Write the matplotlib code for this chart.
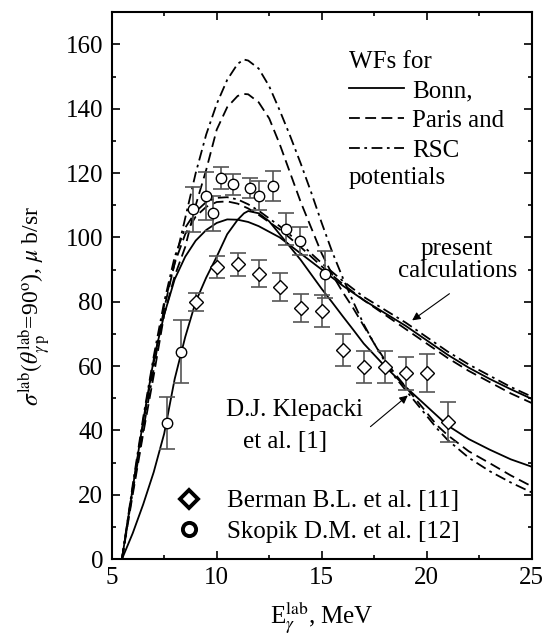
import matplotlib
matplotlib.use("Agg")
import matplotlib.pyplot as plt
from matplotlib.lines import Line2D
from matplotlib.ticker import MultipleLocator

plt.rcParams['font.family'] = ['Liberation Serif', 'DejaVu Serif']
plt.rcParams['mathtext.fontset'] = 'stix'
plt.rcParams['font.size'] = 18

# present calculations (Bonn, Paris, RSC)
pres_x = [5.49, 6.0, 6.5, 7.0, 7.5, 8.0, 8.5, 9.0, 9.5, 10.0, 10.5, 11.0, 11.5, 12.0,
          13.0, 14.0, 15.0, 16.0, 17.0, 18.0, 19.0, 20.0, 21.0, 22.0, 23.0, 24.0, 25.0]
pres_bonn = [0, 22, 43, 62, 76, 87, 94, 99, 102.3, 104.5, 105.6, 105.5, 104.8, 103.5,
             100, 95, 90, 85, 80.5, 76.5, 72.5, 68, 63.5, 59.5, 56, 52.8, 49.8]
pres_paris = [0, 22, 42, 61, 78, 92, 101, 106.5, 109.5, 111, 111.2, 110.5, 109, 107,
              102.5, 97, 91, 85.5, 80.5, 76, 71.5, 67, 62.5, 58.5, 55, 51.5, 48.5]
pres_rsc = [0, 23, 44, 63, 80, 94, 103, 108, 111, 112.3, 112.5, 111.8, 110.3, 108.3,
            103.5, 98, 92, 86.5, 81.5, 77.5, 73.5, 69, 64.5, 60.5, 57, 53.5, 50.5]

# D.J. Klepacki et al. [1]
klep_x = [5.49, 6.0, 6.5, 7.0, 7.5, 8.0, 8.5, 9.0, 9.5, 10.0, 10.5, 11.0, 11.3, 11.5, 12.0,
          12.5, 13.0, 13.5, 14.0, 14.5, 15.0, 15.5, 16.0, 16.5, 17.0, 17.5, 18.0, 18.5,
          19.0, 19.5, 20.0, 20.5, 21.0, 22.0, 23.0, 24.0, 25.0]
klep_bonn = [0, 8, 17, 27, 39, 56, 69, 80, 87.5, 94, 101, 105.5, 107.5, 108.2, 107.5,
             105, 101, 97, 93, 88.5, 84, 79.8, 75.5, 71.3, 67, 63.5, 60, 56.8,
             53.5, 50.5, 47.5, 44.5, 41.5, 37.3, 34, 31, 28.7]
klep_paris = [0, 20, 39, 57, 76, 88, 97, 110, 121, 133.5, 140.5, 144, 144.6, 144.5, 142,
              137, 129, 120, 111, 103, 95, 88.5, 83, 78, 72.5, 67, 62, 57.5,
              53.5, 49.5, 45.5, 41.5, 38.5, 33.5, 29.8, 26, 22.6]
klep_rsc = [0, 21, 40, 59, 79, 92, 106, 120, 132, 141.5, 149, 154, 155.3, 155, 152.5,
            147, 139.5, 131.5, 123, 114, 104.5, 95.5, 87.5, 80, 73, 67, 61.5, 56.5,
            52.5, 48.5, 44.5, 40.5, 37, 31.5, 27.3, 23.8, 20.7]

# Skopik D.M. et al. [12]
skopik_x = [7.62, 8.29, 8.89, 9.50, 9.81, 10.20, 10.79, 11.60, 12.01, 12.68, 13.29, 13.98, 15.16]
skopik_y = [42.3, 64.5, 108.7, 112.9, 107.5, 118.4, 116.5, 115.3, 113.0, 115.9, 102.7, 98.8, 88.5]
skopik_err = [8.2, 9.7, 7.0, 7.5, 5.5, 3.5, 3.3, 3.2, 4.5, 4.7, 5.0, 4.4, 7.2]

# Berman B.L. et al. [11]
berman_x = [9, 10, 11, 12, 13, 14, 15, 16, 17, 18, 19, 20, 21]
berman_y = [79.9, 90.8, 91.6, 88.7, 84.6, 78.0, 77.1, 64.9, 59.7, 59.7, 57.7, 57.7, 42.6]
berman_err = [2.9, 3.4, 3.6, 4.2, 4.3, 4.4, 5.1, 5.0, 5.0, 5.0, 5.2, 5.9, 6.3]

W, H = 546, 639
fig = plt.figure(figsize=(W / 100, H / 100), dpi=100)
ax = fig.add_axes([111.7 / W, 1 - 559 / H, 420 / W, 546.7 / H])

lw = 1.3
dash = (6, 3)
dashdot = (6, 2.5, 1.5, 2.5)

ax.plot(pres_x, pres_bonn, color='k', lw=lw)
ax.plot(pres_x, pres_paris, color='k', lw=lw, dashes=dash)
ax.plot(pres_x, pres_rsc, color='k', lw=lw, dashes=dashdot)
ax.plot(klep_x, klep_bonn, color='k', lw=lw)
ax.plot(klep_x, klep_paris, color='k', lw=lw, dashes=dash)
ax.plot(klep_x, klep_rsc, color='k', lw=lw, dashes=dashdot)

ebar = dict(fmt='none', ecolor='#555555', elinewidth=1.2, capsize=6, capthick=1.2, zorder=3)
ax.errorbar(berman_x, berman_y, yerr=berman_err, **ebar)
ax.errorbar(skopik_x, skopik_y, yerr=skopik_err, **ebar)
ax.plot(berman_x, berman_y, 'D', ms=7, mfc='white', mec='k', mew=1.0, zorder=4)
ax.plot(skopik_x, skopik_y, 'o', ms=7.5, mfc='white', mec='k', mew=1.0, zorder=4)

ax.set_xlim(5, 25)
ax.set_ylim(0, 170)
ax.xaxis.set_major_locator(MultipleLocator(5))
ax.xaxis.set_minor_locator(MultipleLocator(2.5))
ax.yaxis.set_minor_locator(MultipleLocator(10))
ax.set_yticks(range(0, 161, 20))
ax.tick_params(which='both', direction='in', top=True, right=True, width=1.2)
ax.tick_params(which='major', length=5.5, pad=6)
ax.tick_params(which='minor', length=3)
for sp in ax.spines.values():
    sp.set_linewidth(1.5)

# legend for the wave functions
handles = [Line2D([], [], color='k', lw=lw),
           Line2D([], [], color='k', lw=lw, dashes=dash),
           Line2D([], [], color='k', lw=lw, dashes=dashdot)]
leg1 = ax.legend(handles, ['Bonn,', 'Paris and', 'RSC'], title='WFs for',
                 loc='upper left', bbox_to_anchor=(0.564, 0.93), frameon=False,
                 borderpad=0, borderaxespad=0, handlelength=2.2, handletextpad=0.35,
                 labelspacing=0.3, alignment='left', fontsize=18, title_fontsize=18)
leg1._legend_box.sep = 5
ax.add_artist(leg1)
ax.text(16.29, 118.6, 'potentials', ha='left', va='center')

# legend for the data
mhandles = [Line2D([], [], ls='none', marker='D', ms=9, mfc='white', mec='k', mew=2.8),
            Line2D([], [], ls='none', marker='o', ms=9.5, mfc='white', mec='k', mew=2.8)]
ax.legend(mhandles, ['Berman B.L. et al. [11]', 'Skopik D.M. et al. [12]'],
          loc='lower left', bbox_to_anchor=(0.14, 0.029), frameon=False,
          borderpad=0, borderaxespad=0, handlelength=1.5, handletextpad=0.75,
          labelspacing=0.33, fontsize=18)

ax.text(21.45, 93.1, 'present\ncalculations', ha='center', va='center',
        multialignment='center', linespacing=1.0)
ax.annotate('', xy=(19.2, 73.7), xytext=(21.19, 83.0),
            arrowprops=dict(arrowstyle='-|>', color='k', lw=0.8, mutation_scale=12))
ax.text(10.44, 46.2, 'D.J. Klepacki', ha='left', va='center')
ax.text(11.25, 36.3, 'et al. [1]', ha='left', va='center')
ax.annotate('', xy=(19.2, 51.4), xytext=(17.22, 40.6),
            arrowprops=dict(arrowstyle='-|>', color='k', lw=0.8, mutation_scale=12))

fig.text(35 / W, 1 - 306 / H,
         r'$\sigma^{\rm lab}(\theta^{\rm lab}_{\gamma\,{\rm p}}$=90$^{\rm o}$), $\mu$ b/sr',
         rotation=90, ha='center', va='center', fontsize=17)
fig.text(321.7 / W, 1 - 618 / H, r'E$_{\gamma}^{\rm lab}$, MeV', ha='center', va='center')

fig.savefig('out.png', dpi=100)
